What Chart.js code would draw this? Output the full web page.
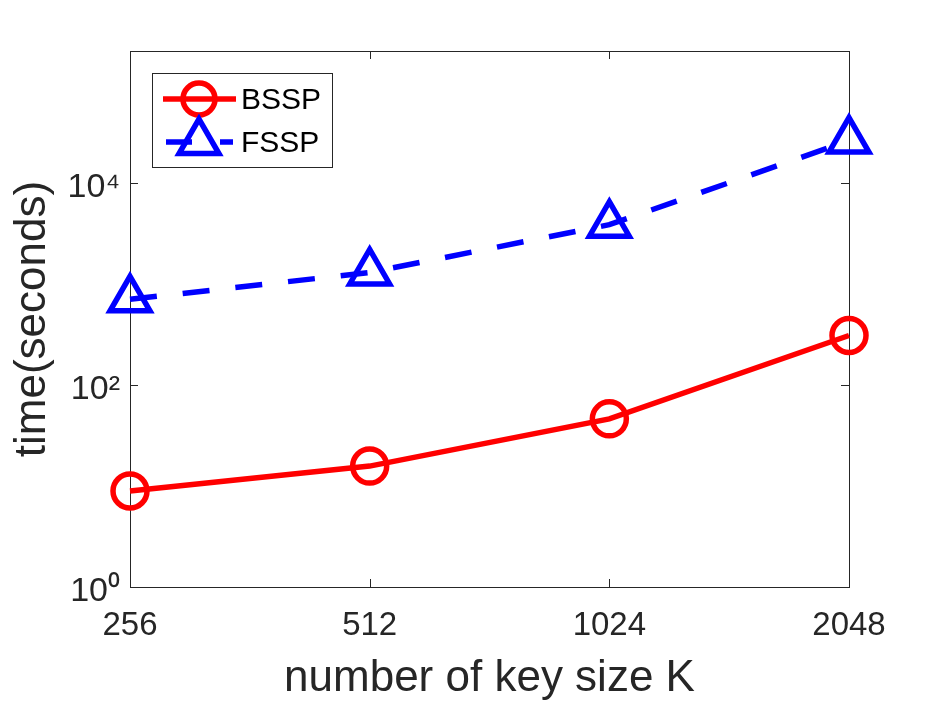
<!DOCTYPE html>
<html>
<head>
<meta charset="utf-8">
<script src="https://cdn.jsdelivr.net/npm/chart.js@4/dist/chart.umd.min.js"></script>
<style>
  body { margin: 0; background: #fff; }
  #wrap { width: 938px; height: 704px; }
</style>
</head>
<body>
<div id="wrap"><canvas id="chart" width="938" height="704"></canvas></div>
<script>
// key sizes on the x axis (equally spaced, log2)
const keySizes = ['256', '512', '1024', '2048'];
const bsspTime = [8.9, 15.7, 46, 307];
const fsspTime = [700, 1290, 3830, 26000];
const yTickValues = [1, 100, 10000];
const yTickLabels = ['10\u2070', '10\u00B2', '10\u2074'];
const seriesNames = ['BSSP', 'FSSP'];

const axisColor = '#262626';
const fontFamily = "'Liberation Sans', Arial, Helvetica, sans-serif";
const lw = 5.5;

// box + inward ticks like matlab
const boxPlugin = {
  id: 'box',
  beforeDatasetsDraw(chart) {
    const { ctx, chartArea: a, scales } = chart;
    ctx.save();
    ctx.strokeStyle = axisColor;
    ctx.lineWidth = 1;
    ctx.strokeRect(a.left + 0.5, a.top + 0.5, a.right - a.left, a.bottom - a.top);
    ctx.beginPath();
    yTickValues.forEach(v => {
      const y = Math.round(scales.y.getPixelForValue(v)) + 0.5;
      ctx.moveTo(a.left, y); ctx.lineTo(a.left + 8, y);
      ctx.moveTo(a.right, y); ctx.lineTo(a.right - 8, y);
    });
    keySizes.forEach((k, i) => {
      const x = Math.round(scales.x.getPixelForValue(i)) + 0.5;
      ctx.moveTo(x, a.bottom); ctx.lineTo(x, a.bottom - 8);
      ctx.moveTo(x, a.top); ctx.lineTo(x, a.top + 8);
    });
    ctx.stroke();
    ctx.restore();
  },
  afterDraw(chart) {
    // legend box in the upper left corner
    const ctx = chart.ctx;
    const bx = 152, by = 73, bw = 180, bh = 94;
    ctx.save();
    ctx.fillStyle = '#fff';
    ctx.fillRect(bx, by, bw, bh);
    ctx.strokeStyle = axisColor;
    ctx.lineWidth = 1;
    ctx.strokeRect(bx + 0.5, by + 0.5, bw, bh);

    // BSSP row
    ctx.strokeStyle = '#ff0000';
    ctx.lineWidth = lw;
    ctx.beginPath();
    ctx.moveTo(163, 99); ctx.lineTo(236, 99);
    ctx.stroke();
    ctx.beginPath();
    ctx.arc(199, 99, 16, 0, Math.PI * 2);
    ctx.stroke();

    // FSSP row
    ctx.strokeStyle = '#0000ff';
    ctx.beginPath();
    ctx.moveTo(166, 142); ctx.lineTo(192, 142);
    ctx.moveTo(220, 142); ctx.lineTo(233, 142);
    ctx.stroke();
    const r = 23, cx = 199, cy = 142;
    ctx.beginPath();
    ctx.moveTo(cx, cy - r);
    ctx.lineTo(cx + r * Math.sin(Math.PI * 2 / 3), cy + r / 2);
    ctx.lineTo(cx - r * Math.sin(Math.PI * 2 / 3), cy + r / 2);
    ctx.closePath();
    ctx.stroke();

    ctx.fillStyle = '#000';
    ctx.font = '30px ' + fontFamily;
    ctx.textBaseline = 'middle';
    ctx.textAlign = 'left';
    ctx.fillText(seriesNames[0], 241, 101);
    ctx.fillText(seriesNames[1], 241, 144);
    ctx.restore();
  }
};

new Chart(document.getElementById('chart'), {
  type: 'line',
  data: {
    labels: keySizes,
    datasets: [{
      label: seriesNames[0],
      data: bsspTime,
      borderColor: '#ff0000',
      borderWidth: lw,
      pointStyle: 'circle',
      pointRadius: 17,
      pointBorderWidth: lw,
      pointBorderColor: '#ff0000',
      pointBackgroundColor: 'rgba(0,0,0,0)',
      tension: 0,
      clip: false
    }, {
      label: seriesNames[1],
      data: fsspTime,
      borderColor: '#0000ff',
      borderWidth: lw,
      borderDash: [27, 26],
      pointStyle: 'triangle',
      pointRadius: 23,
      pointBorderWidth: lw,
      pointBorderColor: '#0000ff',
      pointBackgroundColor: 'rgba(0,0,0,0)',
      tension: 0,
      clip: false
    }]
  },
  options: {
    responsive: false,
    animation: false,
    events: [],
    devicePixelRatio: 1,
    layout: { padding: { top: 51, right: 89, left: 0, bottom: 0 } },
    plugins: {
      legend: { display: false },
      tooltip: { enabled: false }
    },
    scales: {
      x: {
        type: 'category',
        offset: false,
        grid: { display: false, drawTicks: false },
        border: { display: false },
        ticks: {
          color: axisColor,
          padding: 19,
          maxRotation: 0,
          autoSkip: false,
          font: { family: fontFamily, size: 33 }
        },
        title: {
          display: true,
          text: 'number of key size K',
          color: axisColor,
          font: { family: fontFamily, size: 44, lineHeight: 1 },
          padding: { top: 0, bottom: 3 }
        },
        afterFit(scale) { scale.height = 117; }
      },
      y: {
        type: 'logarithmic',
        min: 1,
        max: 200000,
        grid: { display: false, drawTicks: false },
        border: { display: false },
        afterBuildTicks(scale) {
          scale.ticks = yTickValues.map(v => ({ value: v }));
        },
        ticks: {
          color: axisColor,
          padding: 10,
          labelOffset: 5,
          font: { family: fontFamily, size: 34 },
          callback(value) {
            const i = yTickValues.indexOf(value);
            return i >= 0 ? yTickLabels[i] : '';
          }
        },
        title: {
          display: true,
          text: 'time(seconds)',
          color: axisColor,
          font: { family: fontFamily, size: 44, lineHeight: 1 },
          padding: { top: 11, bottom: 0 }
        },
        afterFit(scale) { scale.width = 130; }
      }
    }
  },
  plugins: [boxPlugin]
});
</script>
</body>
</html>
